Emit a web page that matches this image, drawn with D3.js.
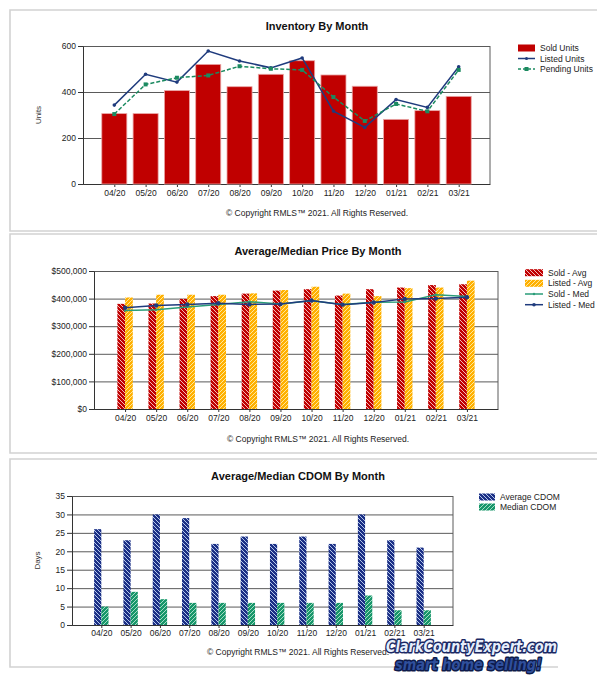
<!DOCTYPE html>
<html>
<head>
<meta charset="utf-8">
<script src="https://cdn.jsdelivr.net/npm/d3@7"></script>
<style>
html, body { margin: 0; padding: 0; background: #fff; }
svg { display: block; font-family: "Liberation Sans", Arial, sans-serif; }
</style>
</head>
<body>
<script>
// --- data ---
const months = ["04/20", "05/20", "06/20", "07/20", "08/20", "09/20", "10/20", "11/20", "12/20", "01/21", "02/21", "03/21"];

const soldUnits    = [306, 306, 406, 520, 423, 477, 536, 474, 425, 281, 319, 381];
const listedUnits  = [343, 477, 443, 578, 535, 505, 548, 317, 246, 367, 333, 510];
const pendingUnits = [304, 433, 462, 472, 512, 501, 496, 378, 274, 348, 316, 496];
const unitTicks = [0, 200, 400, 600];

const soldAvg   = [381000, 382000, 399000, 409000, 418000, 429000, 434000, 411000, 434000, 440000, 449000, 452000];
const listedAvg = [404000, 414000, 414000, 414000, 419000, 431000, 443000, 418000, 409000, 438000, 440000, 465000];
const soldMed   = [357000, 360000, 370000, 379000, 389000, 380000, 392000, 379000, 387000, 388000, 414000, 408000];
const listedMed = [367000, 375000, 379000, 383000, 379000, 380000, 393000, 378000, 386000, 399000, 400000, 405000];
const priceTicks = [0, 100000, 200000, 300000, 400000, 500000];

const avgCdom = [26, 23, 30, 29, 22, 24, 22, 24, 22, 30, 23, 21];
const medCdom = [5, 9, 7, 6, 6, 6, 6, 6, 6, 8, 4, 4];
const dayTicks = [0, 5, 10, 15, 20, 25, 30, 35];

const copyright = "\u00A9 Copyright RMLS\u2122 2021.  All Rights Reserved.";

const svg = d3.select("body").append("svg").attr("width", 608).attr("height", 683);
const defs = svg.append("defs");

// diagonal hatch fills
function hatch(id, base, stripe, dir) {
    const p = defs.append("pattern").attr("id", id)
        .attr("patternUnits", "userSpaceOnUse").attr("width", 4).attr("height", 4);
    p.append("rect").attr("width", 4).attr("height", 4).attr("fill", base);
    const d = dir === "back" ? "M-1,-1L5,5M-1,3L1,5M3,-1L5,1" : "M-1,5L5,-1M-1,1L1,-1M3,5L5,3";
    p.append("path").attr("d", d).attr("stroke", stripe).attr("stroke-width", 1);
}
hatch("hRed", "#c00000", "#f3b9b9", "back");
hatch("hGold", "#ffb000", "#ffe79a", "fwd");
hatch("hNavy", "#1b2f85", "#b3c7ea", "back");
hatch("hGreen", "#17966a", "#a3dcc4", "fwd");

// panel outlines (top, left, bottom)
function panel(y0, y1, xEnd) {
    svg.append("path").attr("d", `M597,${y0}H10V${y1}H${xEnd}`)
        .attr("fill", "none").attr("stroke", "#d2d2d2").attr("stroke-width", 1.6);
}
panel(10, 231, 597);
panel(234, 453, 597);
panel(459, 667, 558);

function label(x, y, str, size, opts = {}) {
    return svg.append("text").attr("x", x).attr("y", y)
        .attr("text-anchor", opts.anchor || "middle")
        .attr("font-size", size).attr("font-weight", opts.bold ? "bold" : null)
        .attr("fill", opts.fill || "#222").text(str);
}

function makeChart(c) {
    const x = d3.scalePoint().domain(months).range([c.left, c.right]).padding(1);
    const y = d3.scaleLinear().domain([0, c.max]).range([c.bottom, c.top]);
    const g = svg.append("g");

    // grid
    g.append("g").attr("transform", `translate(${c.left},0)`)
        .call(d3.axisLeft(y).tickValues(c.ticks).tickSize(-(c.right - c.left)).tickFormat(""))
        .call(a => a.select(".domain").remove())
        .call(a => a.selectAll("line").attr("stroke", "#5a5a5a"));
    g.append("line").attr("x1", c.right).attr("x2", c.right)
        .attr("y1", c.top).attr("y2", c.bottom).attr("stroke", "#5a5a5a");

    // y axis
    g.append("g").attr("transform", `translate(${c.left},0)`)
        .call(d3.axisLeft(y).tickValues(c.ticks).tickSize(5).tickSizeOuter(0).tickPadding(2).tickFormat(c.fmt))
        .call(a => a.selectAll("text").attr("font-size", 8.5).attr("fill", "#222").attr("font-family", null))
        .call(a => a.selectAll("path,line").attr("stroke", "#333"));

    // x axis
    g.append("g").attr("transform", `translate(0,${c.bottom})`)
        .call(d3.axisBottom(x).tickSize(3).tickSizeOuter(0).tickPadding(c.xpad))
        .call(a => a.selectAll("text").attr("font-size", 8.5).attr("fill", "#222").attr("font-family", null))
        .call(a => a.selectAll("path,line").attr("stroke", "#333"));

    label(c.cx, c.titleY, c.title, 11, { bold: true, fill: "#111" });
    label(c.cx, c.copyY, copyright, 8.5, { fill: "#222" });
    if (c.ylabel) {
        svg.append("text").attr("transform", `translate(${c.ylabelX},${(c.top + c.bottom) / 2}) rotate(-90)`)
            .attr("text-anchor", "middle").attr("font-size", 8).attr("fill", "#333").text(c.ylabel);
    }
    return { x, y, g };
}

function legend(x0, rows) {
    rows.forEach(r => {
        const gl = svg.append("g");
        if (r.type === "box") {
            gl.append("rect").attr("x", x0).attr("y", r.y - 3.5).attr("width", r.w).attr("height", 7).attr("fill", r.fill);
        } else {
            gl.append("line").attr("x1", x0).attr("x2", x0 + r.w).attr("y1", r.y).attr("y2", r.y)
                .attr("stroke", r.stroke).attr("stroke-width", 1.5).attr("stroke-dasharray", r.dash || null);
            if (r.marker === "square") {
                gl.append("rect").attr("x", x0 + r.w / 2 - 2).attr("y", r.y - 2).attr("width", 4).attr("height", 4).attr("fill", r.stroke);
            } else if (r.marker) {
                gl.append("circle").attr("cx", x0 + r.w / 2).attr("cy", r.y).attr("r", r.marker).attr("fill", r.stroke);
            }
        }
        label(x0 + r.w + 5, r.y + 3, r.text, 8.5, { anchor: "start", fill: "#222" });
    });
}

const NAVY = "#1f3b7d", GREEN = "#1b8a60";

// ---------- Chart 1: Inventory By Month ----------
{
    const { x, y, g } = makeChart({
        left: 83, right: 490, top: 46, bottom: 184, max: 600, ticks: unitTicks, fmt: d3.format("d"),
        xpad: 3, cx: 317, title: "Inventory By Month", titleY: 29.5, copyY: 216,
        ylabel: "Units", ylabelX: 41
    });
    const bw = x.step() * 0.8;
    g.append("g").selectAll("rect").data(soldUnits).join("rect")
        .attr("x", (d, i) => x(months[i]) - bw / 2).attr("width", bw)
        .attr("y", d => y(d)).attr("height", d => y(0) - y(d))
        .attr("fill", "#c00000").attr("stroke", "#eaa6a6").attr("stroke-width", 0.8);

    const line = d3.line().x((d, i) => x(months[i])).y(d => y(d));
    g.append("path").datum(listedUnits).attr("d", line).attr("fill", "none").attr("stroke", NAVY).attr("stroke-width", 1.5);
    g.append("g").selectAll("circle").data(listedUnits).join("circle")
        .attr("cx", (d, i) => x(months[i])).attr("cy", d => y(d)).attr("r", 1.8).attr("fill", NAVY);
    g.append("path").datum(pendingUnits).attr("d", line).attr("fill", "none").attr("stroke", GREEN)
        .attr("stroke-width", 1.5).attr("stroke-dasharray", "4,2");
    g.append("g").selectAll("rect").data(pendingUnits).join("rect")
        .attr("x", (d, i) => x(months[i]) - 2).attr("y", d => y(d) - 2).attr("width", 4).attr("height", 4).attr("fill", GREEN);

    legend(518, [
        { type: "box", y: 48, w: 17, fill: "#c00000", text: "Sold Units" },
        { type: "line", y: 58.5, w: 17, stroke: NAVY, marker: 1.5, text: "Listed Units" },
        { type: "line", y: 69, w: 17, stroke: GREEN, dash: "3,2", marker: "square", text: "Pending Units" }
    ]);
}

// ---------- Chart 2: Average/Median Price By Month ----------
{
    const { x, y, g } = makeChart({
        left: 94, right: 498, top: 271, bottom: 409, max: 500000, ticks: priceTicks,
        fmt: d => "$" + d3.format(",")(d), xpad: 3, cx: 318,
        title: "Average/Median Price By Month", titleY: 254.5, copyY: 442
    });
    const bw = 7.7;
    g.append("g").selectAll("rect").data(soldAvg).join("rect")
        .attr("x", (d, i) => x(months[i]) - bw).attr("width", bw)
        .attr("y", d => y(d)).attr("height", d => y(0) - y(d)).attr("fill", "url(#hRed)");
    g.append("g").selectAll("rect").data(listedAvg).join("rect")
        .attr("x", (d, i) => x(months[i])).attr("width", bw)
        .attr("y", d => y(d)).attr("height", d => y(0) - y(d)).attr("fill", "url(#hGold)");

    const line = d3.line().x((d, i) => x(months[i])).y(d => y(d));
    g.append("path").datum(soldMed).attr("d", line).attr("fill", "none").attr("stroke", "#2a9d78").attr("stroke-width", 1.5);
    g.append("g").selectAll("circle").data(soldMed).join("circle")
        .attr("cx", (d, i) => x(months[i])).attr("cy", d => y(d)).attr("r", 1.2).attr("fill", "#2a9d78");
    g.append("path").datum(listedMed).attr("d", line).attr("fill", "none").attr("stroke", NAVY).attr("stroke-width", 1.5);
    g.append("g").selectAll("circle").data(listedMed).join("circle")
        .attr("cx", (d, i) => x(months[i])).attr("cy", d => y(d)).attr("r", 2.2).attr("fill", NAVY);

    legend(525, [
        { type: "box", y: 272.7, w: 18, fill: "url(#hRed)", text: "Sold - Avg" },
        { type: "box", y: 283.3, w: 18, fill: "url(#hGold)", text: "Listed - Avg" },
        { type: "line", y: 294, w: 18, stroke: "#2a9d78", marker: 1.2, text: "Sold - Med" },
        { type: "line", y: 304.7, w: 18, stroke: NAVY, marker: 1.8, text: "Listed - Med" }
    ]);
}

// ---------- Chart 3: Average/Median CDOM By Month ----------
{
    const { x, y, g } = makeChart({
        left: 72, right: 453, top: 496, bottom: 625, max: 35, ticks: dayTicks, fmt: d3.format("d"),
        xpad: 2, cx: 298, title: "Average/Median CDOM By Month", titleY: 479.5, copyY: 655,
        ylabel: "Days", ylabelX: 40
    });
    const bw = 7.2;
    g.append("g").selectAll("rect").data(avgCdom).join("rect")
        .attr("x", (d, i) => x(months[i]) - bw).attr("width", bw)
        .attr("y", d => y(d)).attr("height", d => y(0) - y(d)).attr("fill", "url(#hNavy)");
    g.append("g").selectAll("rect").data(medCdom).join("rect")
        .attr("x", (d, i) => x(months[i])).attr("width", bw)
        .attr("y", d => y(d)).attr("height", d => y(0) - y(d)).attr("fill", "url(#hGreen)");

    legend(479, [
        { type: "box", y: 497, w: 16, fill: "url(#hNavy)", text: "Average CDOM" },
        { type: "box", y: 507, w: 16, fill: "url(#hGreen)", text: "Median CDOM" }
    ]);
}

// ---------- watermark ----------
svg.append("text").attr("x", 386).attr("y", 652)
    .attr("textLength", 171).attr("lengthAdjust", "spacingAndGlyphs")
    .attr("font-family", "DejaVu Sans").attr("font-weight", "bold").attr("font-style", "italic").attr("font-size", 15)
    .attr("fill", "#e6eefb").attr("stroke", "#1a2864").attr("stroke-width", 3).attr("paint-order", "stroke")
    .attr("stroke-linejoin", "round")
    .text("ClarkCountyExpert.com");
svg.append("text").attr("x", 395).attr("y", 670)
    .attr("textLength", 147).attr("lengthAdjust", "spacingAndGlyphs")
    .attr("font-family", "DejaVu Sans").attr("font-weight", "bold").attr("font-style", "italic").attr("font-size", 15)
    .attr("fill", "#2f4f9c").attr("stroke", "#0d1a4a").attr("stroke-width", 3).attr("paint-order", "stroke")
    .attr("stroke-linejoin", "round")
    .text("smart home selling!");
</script>
</body>
</html>
